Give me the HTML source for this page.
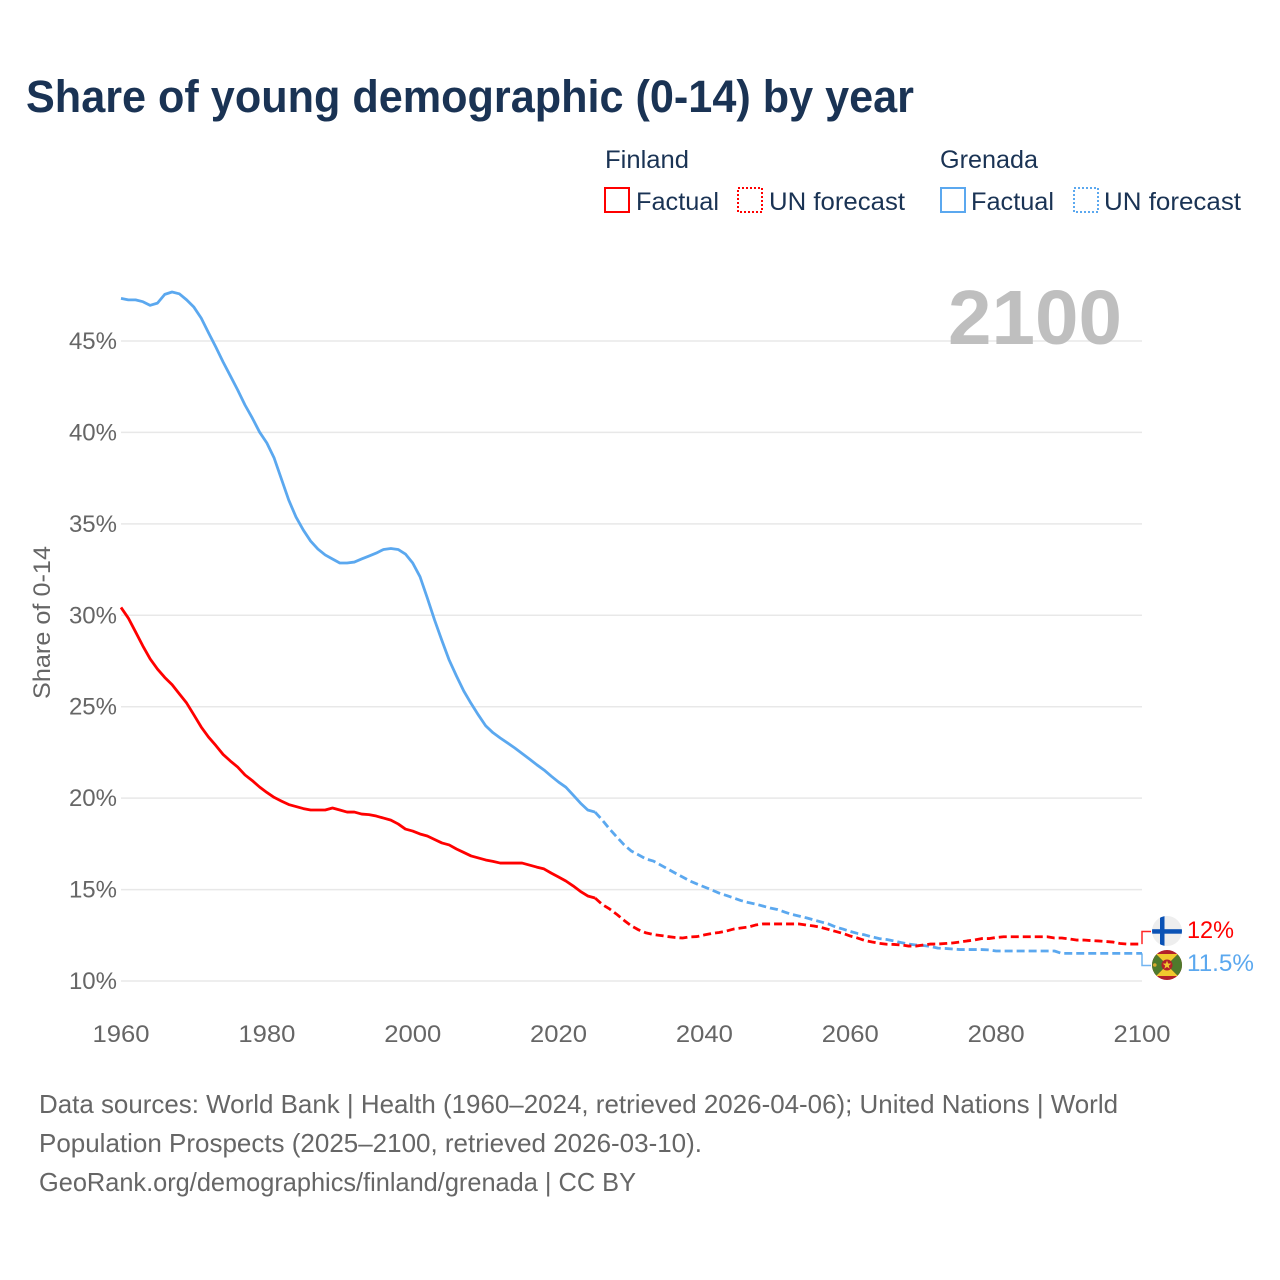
<!DOCTYPE html>
<html lang="en">
<head>
<meta charset="utf-8">
<title>Share of young demographic (0-14) by year</title>
<style>
html,body{margin:0;padding:0;background:#fff;}
#chart{display:block;width:1280px;height:1280px;font-family:"Liberation Sans",sans-serif;}
</style>
</head>
<body>
<svg id="chart" xmlns="http://www.w3.org/2000/svg" width="1280" height="1280" viewBox="0 0 1280 1280">
  <defs>
    <clipPath id="clip-fi"><circle cx="1167" cy="931" r="15"/></clipPath>
    <clipPath id="clip-gd"><circle cx="1167" cy="965" r="15"/></clipPath>
  </defs>
  <rect x="0" y="0" width="1280" height="1280" fill="#ffffff"/>
  <text x="26" y="112" font-size="45" font-weight="700" fill="#1a3354" textLength="888" lengthAdjust="spacingAndGlyphs">Share of young demographic (0-14) by year</text>

  <g font-size="25" fill="#1a3354">
    <text x="605" y="168" textLength="84" lengthAdjust="spacingAndGlyphs">Finland</text>
    <rect x="605" y="188" width="24" height="24" fill="none" stroke="#ff0000" stroke-width="2"/>
    <text x="636" y="210" textLength="83" lengthAdjust="spacingAndGlyphs">Factual</text>
    <rect x="738" y="188" width="24" height="24" fill="none" stroke="#ff0000" stroke-width="2" stroke-dasharray="2 2"/>
    <text x="769" y="210" textLength="136" lengthAdjust="spacingAndGlyphs">UN forecast</text>
    <text x="940" y="168" textLength="98" lengthAdjust="spacingAndGlyphs">Grenada</text>
    <rect x="941" y="188" width="24" height="24" fill="none" stroke="#5ba8ef" stroke-width="2"/>
    <text x="971" y="210" textLength="83" lengthAdjust="spacingAndGlyphs">Factual</text>
    <rect x="1074" y="188" width="24" height="24" fill="none" stroke="#5ba8ef" stroke-width="2" stroke-dasharray="2 2"/>
    <text x="1104" y="210" textLength="137" lengthAdjust="spacingAndGlyphs">UN forecast</text>
  </g>

  <g id="grid"></g>
  <text x="948" y="344" font-size="77" font-weight="700" fill="#bfbfbf" textLength="174" lengthAdjust="spacingAndGlyphs">2100</text>
  <g id="y-axis"></g>
  <g id="x-axis"></g>
  <text transform="translate(50,622.5) rotate(-90)" text-anchor="middle" font-size="24" fill="#666666" textLength="153" lengthAdjust="spacingAndGlyphs">Share of 0-14</text>
  <g id="series"></g>

  <g id="end-labels"></g>

  <g clip-path="url(#clip-fi)">
    <rect x="1152" y="916" width="30" height="30" fill="#eeeeee"/>
    <rect x="1152" y="929.2" width="30" height="4.5" fill="#0a52b5"/>
    <rect x="1160" y="916" width="4.5" height="30" fill="#0a52b5"/>
  </g>
  <g clip-path="url(#clip-gd)">
    <rect x="1152" y="950" width="30" height="30" fill="#b3202a"/>
    <polygon points="1156,954 1178,954 1167,965" fill="#f0c92e"/>
    <polygon points="1156,976 1178,976 1167,965" fill="#f0c92e"/>
    <polygon points="1156,954 1167,965 1156,976" fill="#4f7a2c"/>
    <polygon points="1178,954 1167,965 1178,976" fill="#4f7a2c"/>
    <rect x="1152" y="954" width="4" height="22" fill="#4f7a2c"/>
    <rect x="1178" y="954" width="4" height="22" fill="#4f7a2c"/>
    <circle cx="1154.8" cy="965" r="1.8" fill="#d9a92e"/>
    <circle cx="1167" cy="965" r="5.5" fill="#b3202a"/>
    <polygon points="1167,960.5 1168.1,963.5 1171.3,963.6 1168.8,965.6 1169.6,968.6 1167,966.9 1164.4,968.6 1165.2,965.6 1162.7,963.6 1165.9,963.5" fill="#f0c92e"/>
  </g>

  <g font-size="26" fill="#666666">
    <text x="39" y="1113" textLength="1079" lengthAdjust="spacingAndGlyphs">Data sources: World Bank | Health (1960–2024, retrieved 2026-04-06); United Nations | World</text>
    <text x="39" y="1152" textLength="663" lengthAdjust="spacingAndGlyphs">Population Prospects (2025–2100, retrieved 2026-03-10).</text>
    <text x="39" y="1191" textLength="597" lengthAdjust="spacingAndGlyphs">GeoRank.org/demographics/finland/grenada | CC BY</text>
  </g>
</svg>
<script>
const firstYear = 1960;
const lastFactualYear = 2025;
const xTicks = [1960, 1980, 2000, 2020, 2040, 2060, 2080, 2100];
const yTicks = [10, 15, 20, 25, 30, 35, 40, 45];
const endLabels = ["12%", "11.5%"];
const finlandValues = [
  30.43,29.85,29.09,28.32,27.61,27.06,26.6,26.21,25.7,25.2,
  24.55,23.89,23.34,22.88,22.39,22.03,21.7,21.27,20.96,20.61,
  20.31,20.04,19.84,19.65,19.54,19.43,19.35,19.35,19.35,19.46,
  19.35,19.24,19.24,19.13,19.1,19.02,18.91,18.8,18.59,18.31,
  18.2,18.04,17.93,17.74,17.55,17.44,17.22,17.03,16.84,16.73,
  16.62,16.54,16.45,16.45,16.45,16.45,16.34,16.23,16.13,15.9,
  15.69,15.47,15.2,14.9,14.65,14.54,14.18,13.94,13.64,13.31,
  13.01,12.79,12.63,12.54,12.49,12.43,12.38,12.35,12.41,12.43,
  12.52,12.6,12.65,12.73,12.84,12.9,12.95,13.06,13.12,13.12,
  13.12,13.12,13.12,13.12,13.06,13.01,12.93,12.82,12.71,12.6,
  12.46,12.35,12.21,12.13,12.06,12.01,12.0,11.97,11.91,11.91,
  11.97,12.02,12.02,12.05,12.08,12.13,12.19,12.24,12.32,12.32,
  12.38,12.42,12.42,12.42,12.42,12.42,12.42,12.42,12.35,12.35,
  12.3,12.24,12.24,12.21,12.19,12.16,12.13,12.05,12.02,12.02,
  12.02
];
const grenadaValues = [
  47.33,47.25,47.25,47.15,46.95,47.07,47.55,47.68,47.58,47.25,
  46.85,46.25,45.45,44.67,43.85,43.09,42.32,41.5,40.79,40.02,
  39.42,38.6,37.45,36.3,35.37,34.66,34.06,33.62,33.3,33.08,
  32.86,32.86,32.91,33.08,33.24,33.4,33.6,33.65,33.6,33.35,
  32.86,32.11,30.95,29.74,28.62,27.55,26.68,25.86,25.18,24.55,
  23.96,23.58,23.29,23.02,22.74,22.44,22.14,21.83,21.54,21.2,
  20.88,20.6,20.17,19.73,19.35,19.24,18.8,18.31,17.87,17.44,
  17.1,16.89,16.67,16.56,16.34,16.12,15.9,15.69,15.47,15.3,
  15.14,14.98,14.81,14.68,14.54,14.4,14.29,14.21,14.1,13.99,
  13.91,13.77,13.64,13.55,13.45,13.34,13.23,13.12,12.95,12.84,
  12.71,12.6,12.52,12.41,12.32,12.27,12.19,12.1,12.02,11.97,
  11.94,11.89,11.8,11.78,11.75,11.72,11.72,11.72,11.72,11.7,
  11.64,11.64,11.64,11.64,11.64,11.64,11.64,11.64,11.64,11.51,
  11.51,11.51,11.51,11.51,11.51,11.51,11.51,11.51,11.51,11.51,
  11.51
];

const SVG_NS = "http://www.w3.org/2000/svg";
const RED = "#ff0000";
const BLUE = "#5ba8ef";

function xScale(year) {
  return 121 + (year - 1960) * (1142 - 121) / 140;
}
function yScale(value) {
  return 981 - (value - 10) * (981 - 341) / 35;
}
function make(tag, attrs, parent, text) {
  const el = document.createElementNS(SVG_NS, tag);
  Object.keys(attrs).forEach(function (k) { el.setAttribute(k, attrs[k]); });
  if (text !== undefined) el.textContent = text;
  parent.appendChild(el);
  return el;
}
function pathFor(values, fromYear, toYear) {
  const parts = [];
  for (let y = fromYear; y <= toYear; y++) {
    const v = values[y - firstYear];
    parts.push((parts.length ? "L" : "M") + xScale(y).toFixed(2) + " " + yScale(v).toFixed(2));
  }
  return parts.join(" ");
}

const gridGroup = document.getElementById("grid");
const yAxisGroup = document.getElementById("y-axis");
yTicks.forEach(function (t) {
  const line = make("line", { x1: xScale(firstYear), x2: 1142, y1: yScale(t), y2: yScale(t), stroke: "#e8e8e8", "stroke-width": 1.5 }, gridGroup);
  
  
  const label = make("text", { x: 117, y: yScale(t) + 8, "text-anchor": "end", "font-size": 24, fill: "#666666" }, yAxisGroup, t + "%");
  
  
});

const xAxisGroup = document.getElementById("x-axis");
xTicks.forEach(function (t) {
  const label = make("text", { x: xScale(t), y: 1042, "text-anchor": "middle", "font-size": 24, fill: "#666666", textLength: 57, lengthAdjust: "spacingAndGlyphs" }, xAxisGroup, String(t));
  
  
});

const seriesGroup = document.getElementById("series");
const lastYear = firstYear + finlandValues.length - 1;
[[grenadaValues, BLUE, "grenada"], [finlandValues, RED, "finland"]].forEach(function (s) {
  const solid = make("path", { d: pathFor(s[0], firstYear, lastFactualYear), fill: "none", stroke: s[1], "stroke-width": 2.8, "stroke-linejoin": "round" }, seriesGroup);
  
  
  const dashed = make("path", { d: pathFor(s[0], lastFactualYear, lastYear), fill: "none", stroke: s[1], "stroke-width": 2.8, "stroke-dasharray": "8 4", "stroke-linejoin": "round" }, seriesGroup);
  
  
});

const endGroup = document.getElementById("end-labels");
const xEnd = xScale(lastYear);
const finEndY = yScale(finlandValues[finlandValues.length - 1]);
const greEndY = yScale(grenadaValues[grenadaValues.length - 1]);
const finConnector = make("path", { d: "M" + xEnd + " " + finEndY + " V931.5 H1151", fill: "none", stroke: RED, "stroke-width": 1.5, opacity: 0.85 }, endGroup);


const greConnector = make("path", { d: "M" + xEnd + " " + greEndY + " V965.5 H1151", fill: "none", stroke: BLUE, "stroke-width": 1.5, opacity: 0.85 }, endGroup);


const finLabel = make("text", { x: 1187, y: 938, "font-size": 24, fill: RED, textLength: 47, lengthAdjust: "spacingAndGlyphs" }, endGroup, endLabels[0]);


const greLabel = make("text", { x: 1187, y: 971, "font-size": 24, fill: BLUE, textLength: 67, lengthAdjust: "spacingAndGlyphs" }, endGroup, endLabels[1]);


</script>
</body>
</html>
